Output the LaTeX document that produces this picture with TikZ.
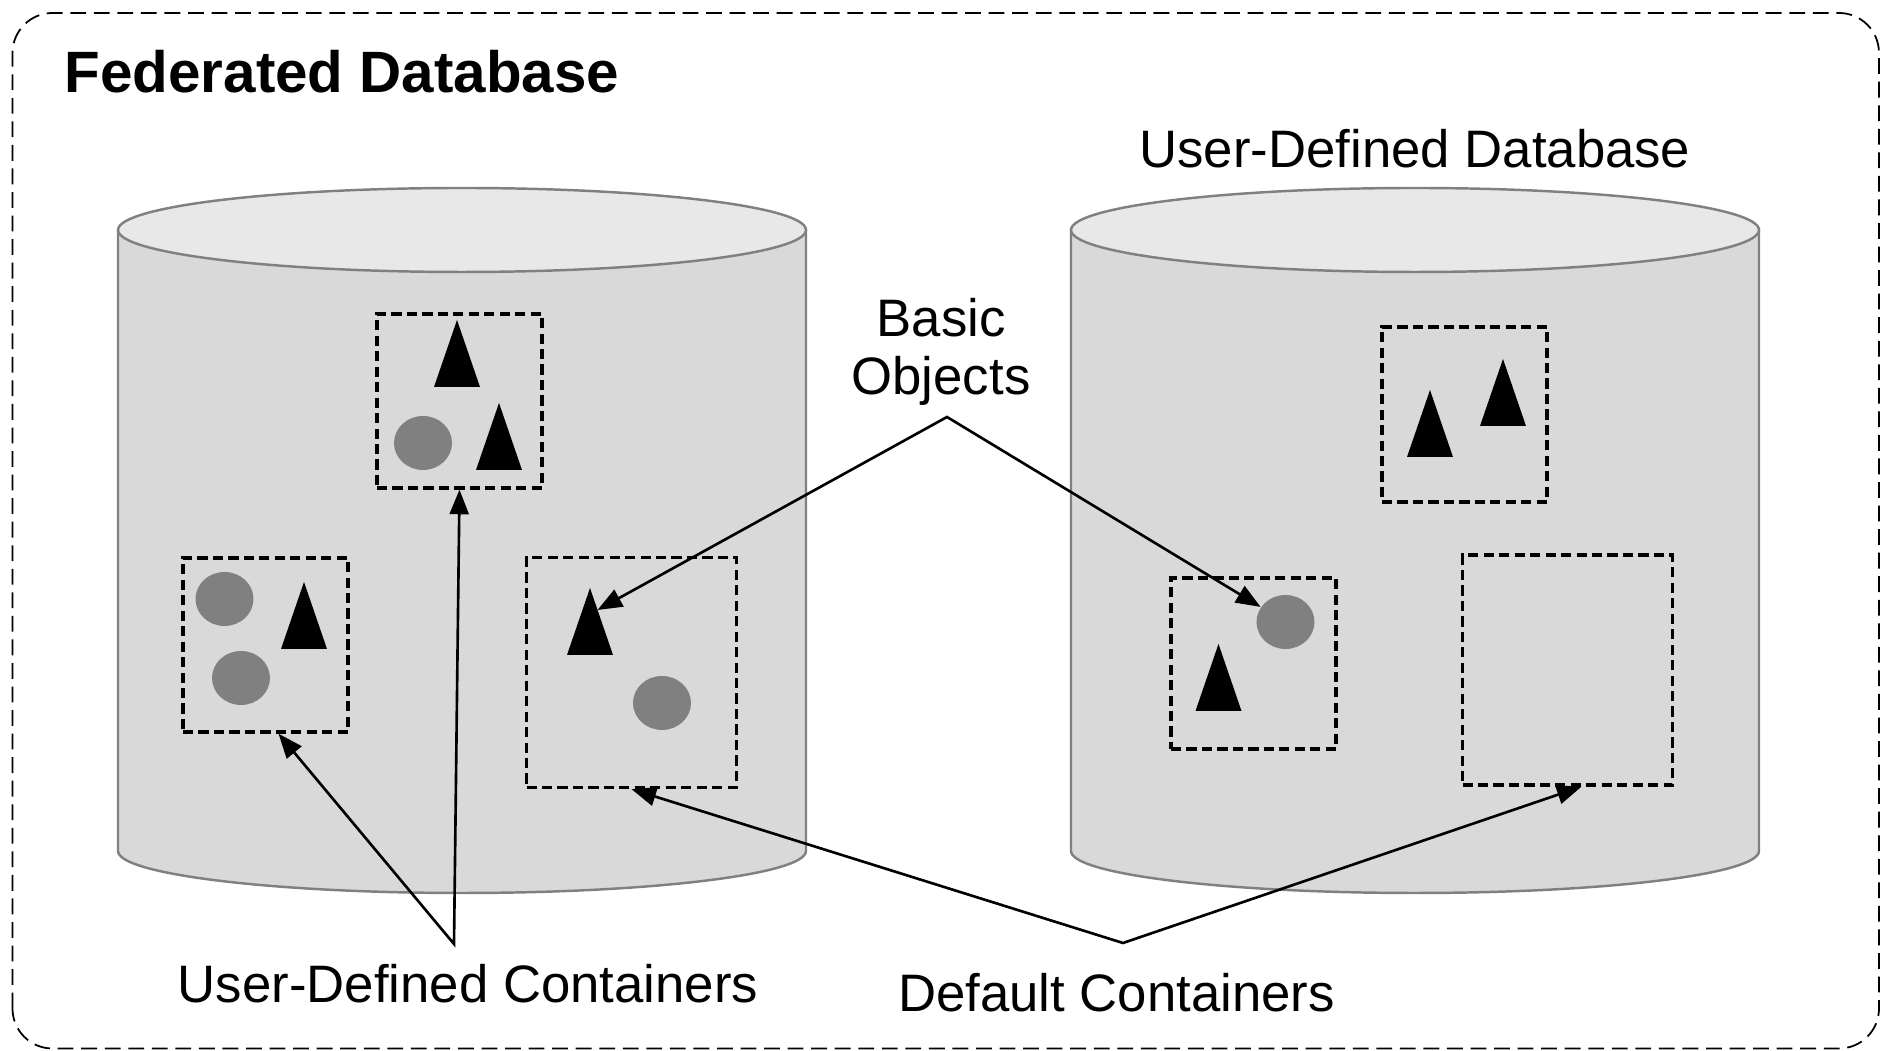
\documentclass[tikz,border=0pt]{standalone}
\usepackage{fontspec}
\setmainfont{Liberation Sans}
\usetikzlibrary{arrows.meta,shapes.geometric}

\definecolor{cylside}{HTML}{D9D9D9}
\definecolor{cyltop}{HTML}{E8E8E8}
\definecolor{cyledge}{HTML}{808080}
\definecolor{objgray}{HTML}{808080}

\tikzset{
  cyl side/.style={fill=cylside, draw=cyledge, line width=0.7pt},
  cyl top/.style={fill=cyltop, draw=cyledge, line width=0.7pt},
  box/.style={draw, dash pattern=on 2.9pt off 1.5pt, line width=0.95pt,
    minimum width=1.65cm, minimum height=1.74cm, inner sep=0pt},
  bigbox/.style={box, minimum width=2.1cm, minimum height=2.3cm},
  obj/.style={ellipse, fill=objgray, minimum width=0.58cm, minimum height=0.54cm, inner sep=0pt},
  cone/.pic={\fill (0,0) -- (-0.23,-0.67) -- (0.23,-0.67) -- cycle;
    \coordinate (-r) at (0.075,-0.22);},
  link/.style={line width=0.75pt, line join=miter,
    {Triangle[length=7pt,width=5.4pt]}-{Triangle[length=7pt,width=5.4pt]}},
  lbl/.style={font=\fontsize{15}{16.5}\selectfont, inner sep=0pt},
}

\begin{document}
\begin{tikzpicture}
        \useasboundingbox (0,0) rectangle (18.81,10.51);

        \draw[dash pattern=on 4.5pt off 2.2pt, line width=0.5pt, rounded corners=0.4cm]
          (0.125,0.025) rectangle (18.79,10.38);
        \node[anchor=base west, inner sep=0pt, font=\bfseries\fontsize{16.6}{19}\selectfont]
          (title) at (0.64,9.58) {Federated Database};

        % the two databases
        \foreach \cx in {4.62,14.15} {
          \draw[cyl side] (\cx-3.44,8.21) -- (\cx-3.44,2.00)
            arc[start angle=180, end angle=360, x radius=3.44, y radius=0.42] -- (\cx+3.44,8.21);
          \draw[cyl top] (\cx,8.21) ellipse[x radius=3.44, y radius=0.42];
        }
        \node[lbl, anchor=base] (udb) at (14.15,8.83) {User-Defined Database};

        % containers
        \node[box] (c1) at (4.595,6.50) {};
        \node[box] (c2) at (2.655,4.06) {};
        \node[bigbox] (c3) at (6.315,3.785) {};
        \node[box, minimum height=1.75cm] (c4) at (14.645,6.365) {};
        \node[box, minimum height=1.71cm] (c5) at (12.535,3.875) {};
        \node[bigbox] (c6) at (15.675,3.81) {};

        % basic objects
        \pic (t1a) at (4.57,7.31) {cone};
        \node[obj] (e1) at (4.23,6.08) {};
        \pic (t1b) at (4.99,6.48) {cone};

        \node[obj] (e2a) at (2.245,4.52) {};
        \pic (t2) at (3.04,4.69) {cone};
        \node[obj] (e2b) at (2.41,3.73) {};

        \pic (t3) at (5.90,4.63) {cone};
        \node[obj] (e3) at (6.62,3.48) {};

        \pic (t4a) at (14.30,6.61) {cone};
        \pic (t4b) at (15.03,6.92) {cone};

        \node[obj] (e5) at (12.855,4.29) {};
        \pic (t5) at (12.185,4.07) {cone};

        % labels and pointers
        \node[lbl, align=center, anchor=north] (bo) at (9.41,7.53) {Basic\\Objects};
        \coordinate (boj) at (9.47,6.34);
        \draw[link] (t3-r) -- (boj) -- (e5);

        \node[lbl, anchor=base] (udc) at (4.68,0.48) {User-Defined Containers};
        \coordinate (udj) at (4.54,1.07);
        \draw[link] ([xshift=1.3mm]c2.south) -- (udj) -- (c1.south);

        \node[lbl, anchor=base] (dc) at (11.165,0.39) {Default Containers};
        \coordinate (dcj) at (11.23,1.08);
        \draw[link] (c3.south) -- (dcj) -- ([xshift=1.4mm]c6.south);
\end{tikzpicture}
\end{document}
